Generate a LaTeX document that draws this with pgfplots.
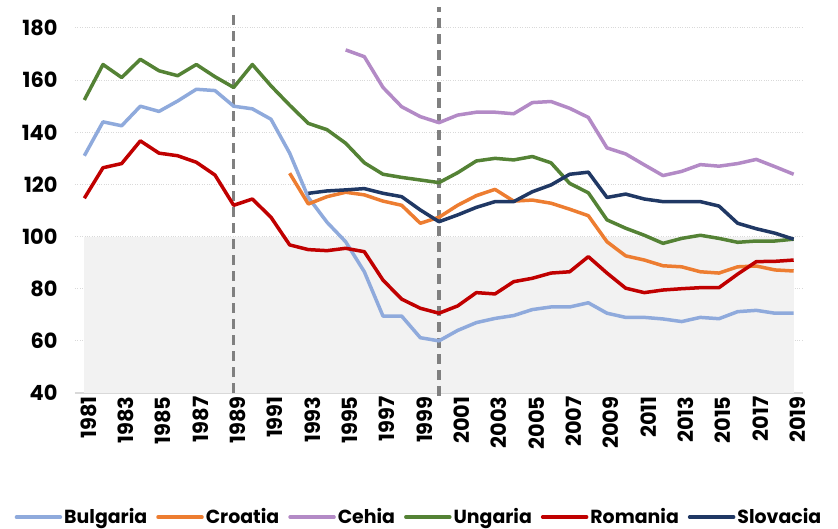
\documentclass[border=0pt]{standalone}
\usepackage{fontspec}
\setmainfont{Poppins}
\usepackage{pgfplots}
\pgfplotsset{compat=1.18}
\definecolor{cBul}{HTML}{8FAADC}
\definecolor{cCro}{HTML}{ED7D31}
\definecolor{cCeh}{HTML}{B38AC6}
\definecolor{cUng}{HTML}{548235}
\definecolor{cRom}{HTML}{C00000}
\definecolor{cSlo}{HTML}{203864}
\definecolor{band}{HTML}{F2F2F2}
\definecolor{gridc}{HTML}{D9D9D9}
\definecolor{dashc}{HTML}{808080}
\begin{document}
\begin{tikzpicture}[x=1bp,y=1bp]
\path[use as bounding box] (-75bp,-136bp) rectangle (763bp,393bp);
\begin{axis}[
  scale only axis, width=728bp, height=365bp,
  at={(0,0)}, anchor=south west,
  xmin=1980.5, xmax=2019.5, ymin=40, ymax=180,
  xtick={1981,1983,...,2019},
  ytick={40,60,...,180},
  ymajorgrids, major grid style={gridc, dotted, line width=1bp},
  axis x line*=bottom, axis y line*=left,
  y axis line style={draw=none},
  x axis line style={gridc, line width=1.5bp, -},
  major tick length=0pt,
  clip=false,
  /pgf/number format/assume math mode=true,
  /pgf/number format/1000 sep={},
  tick label style={font=\fontsize{21}{24}\selectfont\bfseries},
  xticklabel style={rotate=90, anchor=east, xshift=0bp, yshift=-4bp},
  yticklabel style={xshift=-14bp},
  legend columns=6,
  legend style={at={(0.4725,-0.34)}, anchor=center, draw=none, fill=none,
    font=\fontsize{19}{22}\selectfont\bfseries, inner sep=0pt,
    /tikz/every even column/.append style={column sep=7bp}},
  legend image code/.code={\draw[#1, line width=3.5bp, line cap=round] (0bp,0bp) -- (44bp,0bp);},
  every axis plot/.append style={line width=3.5bp, line join=round, no markers},
]
\addplot[fill=band, draw=none, forget plot] coordinates {(1981,40) (1981,100) (2019,100) (2019,40)} -- cycle;
\addplot[dashc, line width=3.5bp, dash pattern=on 10bp off 6bp, forget plot] coordinates {(1989,40) (1989,186)};
\addplot[dashc, line width=3.5bp, dash pattern=on 10bp off 6bp, forget plot] coordinates {(2000,39) (2000,188)};
% Bulgaria
\addplot[cBul] coordinates {
(1981,131)(1982,144)(1983,142.5)(1984,150)(1985,148)(1986,152)(1987,156.5)(1988,156)(1989,150)(1990,149)
(1991,145)(1992,132)(1993,115)(1994,105.5)(1995,98)(1996,86.5)(1997,69.5)(1998,69.5)(1999,61.2)(2000,60)
(2001,64)(2002,67)(2003,68.6)(2004,69.7)(2005,72)(2006,73)(2007,73)(2008,74.6)(2009,70.6)(2010,69)
(2011,69)(2012,68.4)(2013,67.4)(2014,69)(2015,68.5)(2016,71.2)(2017,71.7)(2018,70.6)(2019,70.6)};
\addlegendentry{Bulgaria}
% Croatia
\addplot[cCro] coordinates {
(1992,124.3)(1993,112.5)(1994,115.3)(1995,117)(1996,116)(1997,113.6)(1998,112)(1999,105.1)(2000,107.4)
(2001,112)(2002,115.7)(2003,118.1)(2004,113.6)(2005,114)(2006,112.8)(2007,110.5)(2008,108)(2009,98)(2010,92.6)
(2011,91)(2012,88.8)(2013,88.4)(2014,86.5)(2015,86)(2016,88.4)(2017,88.7)(2018,87.2)(2019,86.8)};
\addlegendentry{Croatia}
% Cehia
\addplot[cCeh] coordinates {
(1995,171.6)(1996,169)(1997,157.2)(1998,149.8)(1999,146)(2000,143.7)
(2001,146.6)(2002,147.7)(2003,147.7)(2004,147.1)(2005,151.4)(2006,151.8)(2007,149.2)(2008,145.7)(2009,134)(2010,131.7)
(2011,127.5)(2012,123.4)(2013,125)(2014,127.6)(2015,127)(2016,128)(2017,129.6)(2018,126.8)(2019,123.9)};
\addlegendentry{Cehia}
% Ungaria
\addplot[cUng] coordinates {
(1981,152.4)(1982,166)(1983,161)(1984,168)(1985,163.6)(1986,161.7)(1987,166)(1988,161.3)(1989,157.2)(1990,166)
(1991,157.8)(1992,150.4)(1993,143.4)(1994,141)(1995,135.8)(1996,128.3)(1997,123.9)(1998,122.7)(1999,121.7)(2000,120.7)
(2001,124.5)(2002,129)(2003,130)(2004,129.4)(2005,130.7)(2006,128.3)(2007,120.4)(2008,116.8)(2009,106.4)(2010,103.2)
(2011,100.5)(2012,97.4)(2013,99.3)(2014,100.5)(2015,99.3)(2016,97.8)(2017,98.3)(2018,98.3)(2019,99)};
\addlegendentry{Ungaria}
% Romania
\addplot[cRom] coordinates {
(1981,114.7)(1982,126.4)(1983,128)(1984,136.7)(1985,132)(1986,131)(1987,128.5)(1988,123.6)(1989,112)(1990,114.4)
(1991,107.4)(1992,96.8)(1993,95)(1994,94.6)(1995,95.5)(1996,94.2)(1997,83.3)(1998,76)(1999,72.5)(2000,70.6)
(2001,73.4)(2002,78.5)(2003,78)(2004,82.7)(2005,84)(2006,86)(2007,86.5)(2008,92.3)(2009,86)(2010,80.2)
(2011,78.5)(2012,79.5)(2013,80)(2014,80.4)(2015,80.4)(2016,85.6)(2017,90.4)(2018,90.5)(2019,91)};
\addlegendentry{Romania}
% Slovacia
\addplot[cSlo] coordinates {
(1993,116.6)(1994,117.5)(1995,117.9)(1996,118.4)(1997,116.6)(1998,115.3)(1999,110.2)(2000,105.7)
(2001,108.3)(2002,111.2)(2003,113.4)(2004,113.4)(2005,117.2)(2006,119.8)(2007,123.9)(2008,124.7)(2009,115)(2010,116.3)
(2011,114.4)(2012,113.4)(2013,113.4)(2014,113.4)(2015,111.7)(2016,105.1)(2017,103)(2018,101.3)(2019,99)};
\addlegendentry{Slovacia}
\end{axis}
\end{tikzpicture}
\end{document}
